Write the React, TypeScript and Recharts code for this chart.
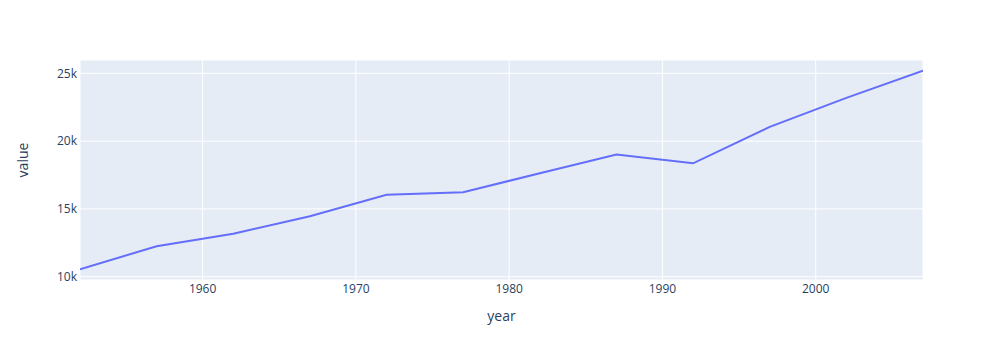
import React from 'react';
import { LineChart, Line, XAxis, YAxis, CartesianGrid } from 'recharts';

// gdp per capita, every 5 years
const years = [1952, 1957, 1962, 1967, 1972, 1977, 1982, 1987, 1992, 1997, 2002, 2007];
const values = [10557, 12247, 13176, 14464, 16046, 16234, 17632, 19007, 18363, 21050, 23190, 25185];

const xTicks = [1960, 1970, 1980, 1990, 2000];
const yTicks = [10000, 15000, 20000, 25000];

const data = years.map((year, i) => ({ year, value: values[i] }));

const FONT = '"Open Sans", verdana, arial, sans-serif';
const INK = '#2a3f5f';

const XTitle = (props: any) => {
  const vb = props.viewBox;
  return (
    <text x={vb.x + vb.width / 2} y={321} textAnchor="middle" fontFamily={FONT} fontSize={14} fill={INK}>
      year
    </text>
  );
};

const YTitle = (props: any) => {
  const vb = props.viewBox;
  const cx = vb.x + 28;
  const cy = vb.y + vb.height / 2 - 10;
  return (
    <text
      x={cx}
      y={cy}
      transform={`rotate(-90 ${cx} ${cy})`}
      textAnchor="middle"
      fontFamily={FONT}
      fontSize={14}
      fill={INK}
    >
      value
    </text>
  );
};

const App: React.FC = () => {
  return (
    <div style={{ position: 'absolute', left: 0, top: 0, width: 1004, height: 360, background: '#fff' }}>
      <LineChart width={1004} height={360} data={data} margin={{ top: 60, right: 81, left: 0, bottom: 0 }}>
        <CartesianGrid fill="#E5ECF6" stroke="#ffffff" strokeWidth={1} />
        <XAxis
          dataKey="year"
          type="number"
          domain={[1952, 2007]}
          ticks={xTicks}
          allowDataOverflow
          axisLine={false}
          tickLine={false}
          tickSize={0}
          tickMargin={4}
          height={80}
          tick={{ fontFamily: FONT, fontSize: 12, fill: INK }}
          label={<XTitle />}
        />
        <YAxis
          type="number"
          domain={[9760, 25980]}
          ticks={yTicks}
          allowDataOverflow
          axisLine={false}
          tickLine={false}
          tickSize={0}
          tickMargin={3}
          width={80}
          tickFormatter={(v: number) => `${v / 1000}k`}
          tick={{ fontFamily: FONT, fontSize: 12, fill: INK }}
          label={<YTitle />}
        />
        <Line
          type="linear"
          dataKey="value"
          stroke="#636efa"
          strokeWidth={2}
          dot={false}
          activeDot={false}
          isAnimationActive={false}
        />
      </LineChart>
    </div>
  );
};

export default App;
